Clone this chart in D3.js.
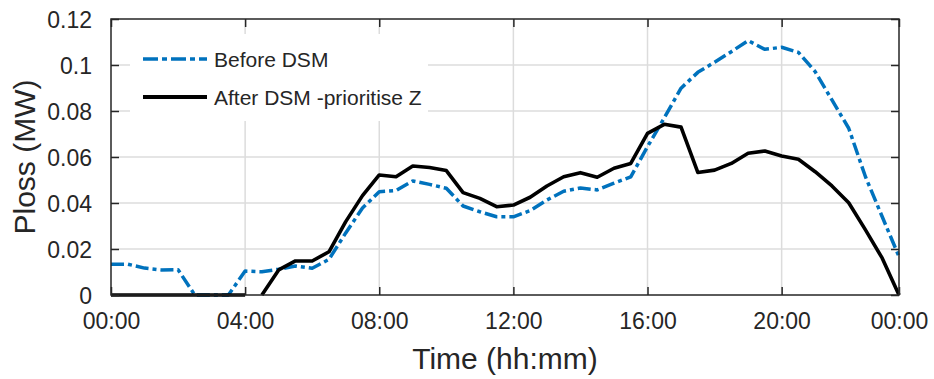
<!DOCTYPE html>
<html>
<head>
<meta charset="utf-8">
<script src="https://cdn.jsdelivr.net/npm/d3@7"></script>
<style>
  body { margin: 0; background: #fff; }
  svg { display: block; }
  text { font-family: "Liberation Sans", Arial, Helvetica, sans-serif; fill: #262626; }
</style>
</head>
<body>
<svg id="chart" width="934" height="379"></svg>
<script>
// Half-hourly sample times over one day
const times = [
  "00:00","00:30","01:00","01:30","02:00","02:30","03:00","03:30",
  "04:00","04:30","05:00","05:30","06:00","06:30","07:00","07:30",
  "08:00","08:30","09:00","09:30","10:00","10:30","11:00","11:30",
  "12:00","12:30","13:00","13:30","14:00","14:30","15:00","15:30",
  "16:00","16:30","17:00","17:30","18:00","18:30","19:00","19:30",
  "20:00","20:30","21:00","21:30","22:00","22:30","23:00","23:30"
];

// Power loss before demand-side management (MW)
const beforeDSM = [
  0.0134, 0.0134, 0.0117, 0.0109, 0.0110, 0.0000, 0.0000, 0.0000,
  0.0104, 0.0101, 0.0112, 0.0126, 0.0116, 0.0155, 0.0270, 0.0378,
  0.0449, 0.0454, 0.0496, 0.0481, 0.0464, 0.0387, 0.0362, 0.0340,
  0.0340, 0.0367, 0.0413, 0.0451, 0.0465, 0.0457, 0.0486, 0.0514,
  0.0645, 0.0770, 0.0899, 0.0968, 0.1012, 0.1058, 0.1106, 0.1068,
  0.1077, 0.1055, 0.0971, 0.0848, 0.0725, 0.0514, 0.0340, 0.0167
];

// Power loss after DSM, prioritising zone Z (MW)
const afterDSM = [
  0.0000, 0.0000, 0.0000, 0.0000, 0.0000, 0.0000, 0.0000, 0.0000,
  0.0000, 0.0000, 0.0109, 0.0148, 0.0148, 0.0188, 0.0319, 0.0432,
  0.0522, 0.0514, 0.0561, 0.0554, 0.0541, 0.0445, 0.0420, 0.0384,
  0.0391, 0.0425, 0.0474, 0.0514, 0.0532, 0.0512, 0.0551, 0.0572,
  0.0703, 0.0742, 0.0730, 0.0533, 0.0543, 0.0572, 0.0616, 0.0626,
  0.0604, 0.0590, 0.0536, 0.0474, 0.0401, 0.0283, 0.0160, 0.0000
];
// Continuous recorded runs of the after-DSM series
const afterRuns = [["00:00", "04:00"], ["04:30", "23:30"]];

const xTickTimes  = ["00:00","04:00","08:00","12:00","16:00","20:00","23:30"];
const xTickLabels = ["00:00","04:00","08:00","12:00","16:00","20:00","00:00"];
const yTicks      = [0, 0.02, 0.04, 0.06, 0.08, 0.1, 0.12];
const yTickLabels = ["0","0.02","0.04","0.06","0.08","0.1","0.12"];

const seriesNames = ["Before DSM", "After DSM -prioritise Z"];

const toHours = s => { const [h, m] = s.split(":").map(Number); return h + m / 60; };

const svg = d3.select("#chart");
const L = 111, R = 899, T = 19, B = 295;

const x = d3.scaleLinear().domain([0, toHours("23:30")]).range([L, R]);
const y = d3.scaleLinear().domain([0, 0.12]).range([B, T]);

const axisColor = "#262626";
const gridColor = "#dcdcdc";

// Grid lines
const grid = svg.append("g");
grid.selectAll(".gx").data(xTickTimes.slice(1, -1)).join("line")
  .attr("x1", d => x(toHours(d))).attr("x2", d => x(toHours(d)))
  .attr("y1", T).attr("y2", B)
  .attr("stroke", gridColor).attr("stroke-width", 1.5);
grid.selectAll(".gy").data(yTicks.slice(1, -1)).join("line")
  .attr("x1", L).attr("x2", R)
  .attr("y1", d => y(d)).attr("y2", d => y(d))
  .attr("stroke", gridColor).attr("stroke-width", 1.5);

// Clip region for plotted lines
svg.append("clipPath").attr("id", "plotClip")
  .append("rect").attr("x", L - 2).attr("y", T).attr("width", R - L + 4).attr("height", B - T + 2);

const line = d3.line().x(d => x(d.t)).y(d => y(d.v));

const beforePts = times.map((t, i) => ({ t: toHours(t), v: beforeDSM[i] }));
const plot = svg.append("g").attr("clip-path", "url(#plotClip)");

plot.append("path").datum(beforePts)
  .attr("d", line)
  .attr("fill", "none")
  .attr("stroke", "#0072BD")
  .attr("stroke-width", 3.5)
  .attr("stroke-dasharray", "13,4,4,4")
  .attr("stroke-linejoin", "round");

afterRuns.forEach(([a, b]) => {
  const i0 = times.indexOf(a), i1 = times.indexOf(b);
  const pts = times.slice(i0, i1 + 1).map((t, k) => ({ t: toHours(t), v: afterDSM[i0 + k] }));
  plot.append("path").datum(pts)
    .attr("d", line)
    .attr("fill", "none")
    .attr("stroke", "#000")
    .attr("stroke-width", 3.6)
    .attr("stroke-linejoin", "round");
});

// Axes box
svg.append("rect").attr("x", L).attr("y", T).attr("width", R - L).attr("height", B - T)
  .attr("fill", "none").attr("stroke", axisColor).attr("stroke-width", 1.5);

// Axes with inward ticks on all four sides
const xBottom = d3.axisBottom(x)
  .tickValues(xTickTimes.map(toHours))
  .tickFormat((d, i) => xTickLabels[i])
  .tickSizeInner(-8).tickSizeOuter(0).tickPadding(22);
const gxB = svg.append("g").attr("transform", `translate(0,${B})`).call(xBottom);
const gxT = svg.append("g").attr("transform", `translate(0,${T})`)
  .call(d3.axisTop(x).tickValues(xTickTimes.map(toHours)).tickFormat("").tickSizeInner(-8).tickSizeOuter(0));

const yLeft = d3.axisLeft(y)
  .tickValues(yTicks)
  .tickFormat((d, i) => yTickLabels[i])
  .tickSizeInner(-8).tickSizeOuter(0).tickPadding(19);
const gyL = svg.append("g").attr("transform", `translate(${L},0)`).call(yLeft);
const gyR = svg.append("g").attr("transform", `translate(${R},0)`)
  .call(d3.axisRight(y).tickValues(yTicks).tickFormat("").tickSizeInner(-8).tickSizeOuter(0));

[gxB, gxT, gyL, gyR].forEach(g => {
  g.select(".domain").remove();
  g.selectAll(".tick line").attr("stroke", axisColor).attr("stroke-width", 1.5);
  g.selectAll(".tick text").attr("fill", axisColor)
    .style("font-family", "'Liberation Sans', Arial, sans-serif")
    .style("font-size", "23px");
});
gyL.selectAll(".tick text").attr("dy", "0.36em");
gxB.selectAll(".tick text").attr("dy", "0.5em");

// Axis titles
svg.append("text")
  .attr("x", (L + R) / 2).attr("y", 369)
  .attr("text-anchor", "middle")
  .style("font-size", "30px")
  .text("Time (hh:mm)");
svg.append("text")
  .attr("transform", `translate(35,${(T + B) / 2}) rotate(-90)`)
  .attr("text-anchor", "middle")
  .style("font-size", "30px")
  .text("Ploss (MW)");

// Legend
const lg = svg.append("g");
lg.append("rect").attr("x", 130).attr("y", 34).attr("width", 298).attr("height", 87).attr("fill", "#fff");
const legendItems = [
  { name: seriesNames[0], color: "#0072BD", dash: "15,4,5,4", w: 3.5, yy: 59 },
  { name: seriesNames[1], color: "#000", dash: null, w: 4, yy: 97 }
];
legendItems.forEach(it => {
  lg.append("line").attr("x1", 143).attr("x2", 207).attr("y1", it.yy).attr("y2", it.yy)
    .attr("stroke", it.color).attr("stroke-width", it.w)
    .attr("stroke-dasharray", it.dash);
  lg.append("text").attr("x", 214).attr("y", it.yy).attr("dy", "0.36em")
    .style("font-size", "21px").attr("fill", "#000").text(it.name);
});
</script>
</body>
</html>
